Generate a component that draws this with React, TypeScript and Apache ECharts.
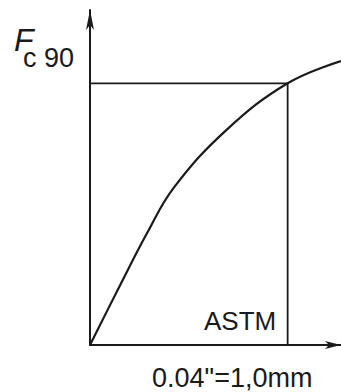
import React, { useEffect, useRef } from "react";
import * as echarts from "echarts";

// Deformation (mm) and relative load F / Fc90 along the compression curve
const deformation = [0, 0.14, 0.289, 0.427, 0.691, 1.0, 1.27];
const load = [0, 0.21, 0.428, 0.604, 0.822, 1.0, 1.085];

// ASTM reference: load level Fc90 reached at 1.0 mm deformation
const astmDeformation = 1.0;
const astmLoad = 1.0;
const leftOvershoot = -0.07;

const FONT = "'Liberation Sans', Arial, sans-serif";
const INK = "#1a1a1a";

export default function App() {
  const ref = useRef<HTMLDivElement>(null);

  useEffect(() => {
    if (!ref.current) return;
    const chart = echarts.init(ref.current, undefined, { renderer: "svg" });
    const curve = deformation.map((d, i) => [d, load[i]]);
    const guide = [
      [leftOvershoot, astmLoad],
      [astmDeformation, astmLoad],
      [astmDeformation, 0],
    ];

    chart.setOption({
      animation: false,
      backgroundColor: "#ffffff",
      grid: { left: 90, right: 0, top: 10, bottom: 47 },
      xAxis: {
        type: "value",
        min: 0,
        max: 1.27,
        axisLine: {
          show: true,
          symbol: ["none", "arrow"],
          symbolSize: [6, 16],
          lineStyle: { color: INK, width: 2 },
        },
        axisTick: { show: false },
        axisLabel: { show: false },
        splitLine: { show: false },
      },
      yAxis: {
        type: "value",
        min: 0,
        max: 1.28,
        axisLine: {
          show: true,
          symbol: ["none", "arrow"],
          symbolSize: [6, 20],
          lineStyle: { color: INK, width: 2 },
        },
        axisTick: { show: false },
        axisLabel: { show: false },
        splitLine: { show: false },
      },
      series: [
        {
          type: "line",
          data: guide,
          clip: false,
          symbol: "none",
          lineStyle: { color: INK, width: 1.8 },
          z: 2,
        },
        {
          type: "line",
          data: curve,
          smooth: 0.4,
          symbol: "none",
          lineStyle: { color: INK, width: 2.2 },
          z: 3,
        },
      ],
      graphic: [
        {
          type: "text",
          left: 14,
          top: 24,
          style: {
            text: "F",
            font: `italic 32px ${FONT}`,
            fill: INK,
          },
        },
        {
          type: "text",
          left: 23,
          top: 44,
          style: {
            text: "c 90",
            font: `27px ${FONT}`,
            fill: INK,
          },
        },
        {
          type: "text",
          left: 204,
          top: 308,
          style: {
            text: "ASTM",
            font: `26px ${FONT}`,
            fill: INK,
          },
        },
        {
          type: "text",
          left: 152,
          top: 364,
          style: {
            text: "0.04\"=1,0mm",
            font: `27px ${FONT}`,
            fill: INK,
          },
        },
      ],
    });

    return () => chart.dispose();
  }, []);

  return (
    <div
      ref={ref}
      style={{ position: "absolute", left: 0, top: 0, width: 341, height: 392 }}
    />
  );
}
